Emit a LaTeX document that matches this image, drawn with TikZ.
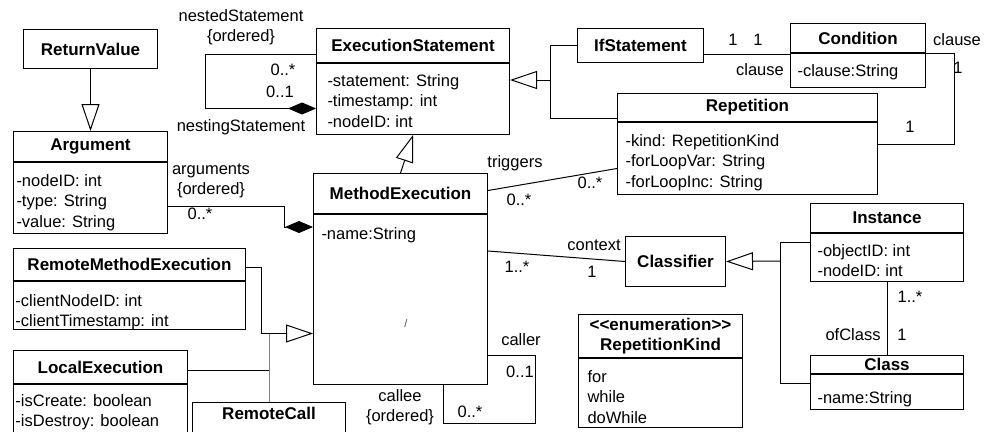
\documentclass[tikz,border=0pt]{standalone}
\usepackage{fontspec}
\setmainfont{Liberation Sans}
\usepackage{tikz}
\usetikzlibrary{positioning,arrows.meta,calc}
\newcommand{\umltitle}{\fontsize{17}{20}\selectfont\bfseries}
\newcommand{\umltext}{\fontsize{16.5}{20.5}\selectfont}
\tikzset{
    class head/.style={draw, anchor=north west, inner sep=0pt, font=\umltitle},
    class body/.style={draw, anchor=north west, inner sep=0pt},
    attr list/.style={anchor=north west, align=left, inner sep=0pt, font=\umltext},
    role label/.style={inner sep=0pt, align=center, font=\umltext},
    inherit arrow/.style={-{Triangle[open, length=27pt, width=18pt]}},
    compose arrow/.style={-{Diamond[length=28pt, width=12pt]}}
}

\begin{document}
\begin{tikzpicture}[x=1pt, y=-1pt, line width=1pt]
\useasboundingbox (0,0) rectangle (985,431);
\clip (0,0) rectangle (985,431);

\node[class head, minimum width=134pt, minimum height=39pt] (rv) at (23,29) {ReturnValue};

\node[class head, minimum width=154pt, minimum height=30pt] (arg) at (13,131) {Argument};
\node[class body, minimum width=154pt, minimum height=71pt] (arg-b) at (arg.south west) {};
\node[attr list] (arg-a) at ([shift={(3,12)}]arg-b.north west) {-nodeID: int\\-type: String\\-value: String};

\node[class head, minimum width=193pt, minimum height=34pt] (es) at (316,28) {ExecutionStatement};
\node[class body, minimum width=193pt, minimum height=71pt] (es-b) at (es.south west) {};
\node[attr list] (es-a) at ([shift={(11,11)}]es-b.north west) {-statement: String\\-timestamp: int\\-nodeID: int};

\node[class head, minimum width=126pt, minimum height=34pt] (ifs) at (577,28) {IfStatement};

\node[class head, minimum width=135pt, minimum height=29pt] (cond) at (790,23) {Condition};
\node[class body, minimum width=135pt, minimum height=34pt] (cond-b) at (cond.south west) {};
\node[attr list] (cond-a) at ([shift={(7,11)}]cond-b.north west) {-clause:String};

\node[class head, minimum width=260pt, minimum height=28pt] (rep) at (617,93) {Repetition};
\node[class body, minimum width=260pt, minimum height=72pt] (rep-b) at (rep.south west) {};
\node[attr list] (rep-a) at ([shift={(8,12)}]rep-b.north west) {-kind: RepetitionKind\\-forLoopVar: String\\-forLoopInc: String};

\node[class head, minimum width=174pt, minimum height=40pt] (me) at (313,173) {MethodExecution};
\node[class body, minimum width=174pt, minimum height=170pt] (me-b) at (me.south west) {};
\node[attr list] (me-a) at ([shift={(8,13)}]me-b.north west) {-name:String};
\node[role label, font=\fontsize{11}{11}\selectfont, text=black!70] (me-s) at (406,324) {/};

\node[class head, minimum width=232pt, minimum height=32pt] (rme) at (13,248) {RemoteMethodExecution};
\node[class body, minimum width=232pt, minimum height=48pt] (rme-b) at (rme.south west) {};
\node[attr list] (rme-a) at ([shift={(2,13)}]rme-b.north west) {-clientNodeID: int\\-clientTimestamp: int};

\node[class head, minimum width=174pt, minimum height=33pt] (le) at (13,350) {LocalExecution};
\node[class body, minimum width=174pt, minimum height=60pt] (le-b) at (le.south west) {};
\node[attr list] (le-a) at ([shift={(2,10)}]le-b.north west) {-isCreate: boolean\\-isDestroy: boolean};

\node[class head, minimum width=153pt, inner ysep=5pt, text depth=30pt] (rc) at (192,402) {RemoteCall};

\node[class head, minimum width=100pt, minimum height=50pt] (clf) at (625,236) {Classifier};

\node[class head, minimum width=153pt, minimum height=29pt] (inst) at (810,203) {Instance};
\node[class body, minimum width=153pt, minimum height=48pt] (inst-b) at (inst.south west) {};
\node[attr list] (inst-a) at ([shift={(7,11)}]inst-b.north west) {-objectID: int\\-nodeID: int};

\node[class head, minimum width=153pt, minimum height=18pt] (cls) at (810,355) {Class};
\node[class body, minimum width=153pt, minimum height=35pt] (cls-b) at (cls.south west) {};
\node[attr list] (cls-a) at ([shift={(7,17)}]cls-b.north west) {-name:String};

\node[class head, minimum width=164pt, minimum height=43pt, align=center] (rk) at (578,314) {<\kern0pt<enumeration>\kern0pt>\\RepetitionKind};
\node[class body, minimum width=164pt, minimum height=69pt] (rk-b) at (rk.south west) {};
\node[attr list] (rk-a) at ([shift={(9,12)}]rk-b.north west) {for\\while\\doWhile};

% generalizations
\draw[inherit arrow] (rv) -- (arg);
\coordinate (es-g) at (550,80);
\draw (ifs.west) -| (es-g);
\draw ([yshift=-11pt]rep.west) -| (es-g);
\draw[inherit arrow] (es-g) -- (es-g -| es-b.east);
\draw[inherit arrow] (me.north) -- (es-b.south);
\coordinate (me-g) at ([yshift=-34pt]me-b.west);
\draw[inherit arrow] ([yshift=-3pt]rme.east) -- ++(15,0) |- (me-g);
\coordinate (le-g) at ([yshift=-3.5pt]le.east);
\draw (le-g) -- (le-g -| rc.north);
\draw[gray] (rc.north) -- (rc.north |- me-g);
\coordinate (clf-g) at (780,261);
\draw ([yshift=15pt]inst-b.west) -| (clf-g);
\draw ([yshift=8.5pt]cls-b.west) -| (clf-g);
\draw[inherit arrow] (clf-g) -- (clf.east);

% associations
\draw[compose arrow] ([yshift=-9pt]es.west) -- ++(-111,0) |- ([yshift=-9.5pt]es-b.west);
\draw[compose arrow] ([yshift=-8.5pt]arg-b.east) -- ++(116,0) |- ([yshift=-13pt]me-b.north west);
\coordinate (ifs-c) at ([yshift=-9pt]ifs.east);
\draw (ifs-c) -- (ifs-c -| cond.west);
\draw (cond.south east) -- ++(28,0) |- ([yshift=14pt]rep-b.east);
\draw ([yshift=3pt]me.east) -- ([yshift=-10pt]rep-b.west);
\draw ([yshift=-37pt]me-b.north east) -- (clf.west);
\coordinate (me-c) at (535,423);
\draw ([yshift=-56pt]me-b.east) -| (me-c) -| ([xshift=43pt]me-b.south);
\draw (inst-b) -- (cls);

\node[role label] (l-nest) at (241,27) {nestedStatement\\\{ordered\}};
\node[role label] (l-nest-m) at (283,70) {0..*};
\node[role label] (l-nesting-m) at (280,92) {0..1};
\node[role label] (l-nesting) at (241,127) {nestingStatement};
\node[role label] (l-args) at (211,181) {arguments\\\{ordered\}};
\node[role label] (l-args-m) at (200,214) {0..*};
\node[role label] (l-trig) at (515,163) {triggers};
\node[role label] (l-trig-m1) at (519,200) {0..*};
\node[role label] (l-trig-m2) at (590,183) {0..*};
\node[role label] (l-if-m) at (733,40) {1};
\node[role label] (l-cond-m) at (758,40) {1};
\node[role label] (l-clause) at (760,70) {clause};
\node[role label] (l-clause2) at (957,40) {clause};
\node[role label] (l-clause2-m) at (958,68) {1};
\node[role label] (l-rep-m) at (910,127) {1};
\node[role label] (l-ctx) at (594,245) {context};
\node[role label] (l-ctx-m1) at (517,267) {1..*};
\node[role label] (l-ctx-m2) at (592,272) {1};
\node[role label] (l-caller) at (521,340) {caller};
\node[role label] (l-caller-m) at (520,372) {0..1};
\node[role label] (l-callee) at (400,407) {callee\\\{ordered\}};
\node[role label] (l-callee-m) at (470,412) {0..*};
\node[role label] (l-inst-m) at (910,297) {1..*};
\node[role label] (l-ofclass) at (853,335) {ofClass};
\node[role label] (l-ofclass-m) at (902,335) {1};
\end{tikzpicture}
\end{document}
